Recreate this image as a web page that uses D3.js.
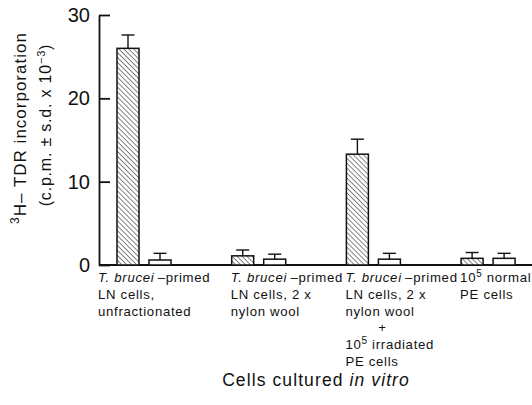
<!DOCTYPE html>
<html>
<head>
<meta charset="utf-8">
<script src="https://cdn.jsdelivr.net/npm/d3@7"></script>
<style>
  html, body { margin: 0; padding: 0; background: #fff; }
  svg { display: block; }
  text { font-family: "Liberation Sans", Arial, sans-serif; fill: #111; }
</style>
</head>
<body>
<svg id="chart" width="532" height="405"></svg>
<script>
// ---- data ----
const groups = ["g1", "g2", "g3", "g4"];
const primedValues = [26.0, 1.1, 13.3, 0.8];   // hatched bars
const primedErrors = [1.6, 0.7, 1.8, 0.7];
const controlValues = [0.6, 0.7, 0.7, 0.8];    // open bars
const controlErrors = [0.8, 0.6, 0.7, 0.6];
const yTicks = [0, 10, 20, 30];
// label lines: each line is a list of [text, style] segments (i = italic, s = superscript, c = centred)
const groupLabels = [
  [[["T. brucei", "i"], ["\u2009–primed", ""]], [["LN cells,", ""]], [["unfractionated", ""]]],
  [[["T. brucei", "i"], ["\u2009–primed", ""]], [["LN cells, 2 x", ""]], [["nylon wool", ""]]],
  [[["T. brucei", "i"], ["\u2009–primed", ""]], [["LN cells, 2 x", ""]], [["nylon wool", ""]],
   [["+", "c"]], [["10", ""], ["5", "s"], [" irradiated", ""]], [["PE cells", ""]]],
  [[["10", ""], ["5", "s"], [" normal", ""]], [["PE cells", ""]]]
];
const xTitle = [["Cells cultured ", ""], ["in vitro", "i"]];
const yTitle1 = [["3", "s"], ["H– TDR incorporation", ""]];
const yTitle2 = [["(c.p.m. ± s.d. x 10", ""], ["−3", "s"], [")", ""]];

// ---- layout ----
const svg = d3.select("#chart");
const axisX = 99, baseY = 265;
const y = d3.scaleLinear().domain([0, 30]).range([baseY, 15]);
const x = d3.scaleBand().domain(groups).range([117, 117 + 4 * 114.7]);
const barW = 22, openOff = 32;

// hatch pattern
const defs = svg.append("defs");
const pat = defs.append("pattern").attr("id", "hatch")
  .attr("patternUnits", "userSpaceOnUse").attr("width", 3.5).attr("height", 3.5)
  .attr("patternTransform", "rotate(-45)");
pat.append("rect").attr("width", 3.5).attr("height", 3.5).attr("fill", "#fff");
pat.append("line").attr("x1", 0).attr("y1", 0).attr("x2", 0).attr("y2", 3.5)
  .attr("stroke", "#222").attr("stroke-width", 1.1);

// y axis
const yAxis = d3.axisLeft(y).tickValues(yTicks).tickSizeInner(-11).tickSizeOuter(0).tickPadding(9);
const gy = svg.append("g").attr("transform", `translate(${axisX},0)`).call(yAxis);
gy.selectAll("path, line").attr("stroke", "#111").attr("stroke-width", 1.8);
gy.selectAll("text").attr("font-size", 20).attr("fill", "#222")
  .style("font-family", "'Liberation Sans', Arial, sans-serif").style("font-weight", 300);

// x baseline
svg.append("line").attr("x1", axisX).attr("x2", 532).attr("y1", baseY).attr("y2", baseY)
  .attr("stroke", "#111").attr("stroke-width", 1.8);

function drawBars(values, errors, off, fill) {
  const g = svg.append("g");
  groups.forEach((gr, i) => {
    const bx = x(gr) + off;
    g.append("rect").attr("x", bx).attr("y", y(values[i]))
      .attr("width", barW).attr("height", baseY - y(values[i]))
      .attr("fill", fill).attr("stroke", "#111").attr("stroke-width", 1.5);
    const cx = bx + barW / 2;
    g.append("line").attr("x1", cx).attr("x2", cx)
      .attr("y1", y(values[i])).attr("y2", y(values[i] + errors[i]))
      .attr("stroke", "#111").attr("stroke-width", 1.4);
    g.append("line").attr("x1", cx - 6.5).attr("x2", cx + 6.5)
      .attr("y1", y(values[i] + errors[i])).attr("y2", y(values[i] + errors[i]))
      .attr("stroke", "#111").attr("stroke-width", 1.4);
  });
}
drawBars(primedValues, primedErrors, 0, "url(#hatch)");
drawBars(controlValues, controlErrors, openOff, "#fff");

function addSegments(t, segs, supSize) {
  segs.forEach(([s, st]) => {
    const ts = t.append("tspan").text(s);
    if (st === "i") ts.attr("font-style", "italic");
    if (st === "s") {
      ts.attr("font-size", supSize).attr("baseline-shift", "super");
    }
  });
}

// group labels
const lineH = 16.8;
groupLabels.forEach((lines, i) => {
  const lx = x(groups[i]) + (i === 0 ? -19 : -1);
  lines.forEach((segs, j) => {
    const isC = segs.length === 1 && segs[0][1] === "c";
    const t = svg.append("text")
      .attr("x", isC ? lx + 37 : lx).attr("y", 282 + j * lineH)
      .attr("font-size", 13.2).attr("letter-spacing", 0.7)
      .attr("text-anchor", isC ? "middle" : "start");
    if (isC) t.text(segs[0][0]);
    else addSegments(t, segs, 10);
  });
});

// x title
const xt = svg.append("text").attr("x", 316).attr("y", 386).attr("text-anchor", "middle")
  .attr("font-size", 17.5).attr("letter-spacing", 1.1);
addSegments(xt, xTitle, 12);

// y titles
const yt1 = svg.append("text").attr("transform", `translate(26,128) rotate(-90)`)
  .attr("text-anchor", "middle").attr("font-size", 17).attr("letter-spacing", 1);
addSegments(yt1, yTitle1, 12);
const yt2 = svg.append("text").attr("transform", `translate(51,125) rotate(-90)`)
  .attr("text-anchor", "middle").attr("font-size", 16).attr("letter-spacing", 0.8);
addSegments(yt2, yTitle2, 11);
</script>
</body>
</html>
